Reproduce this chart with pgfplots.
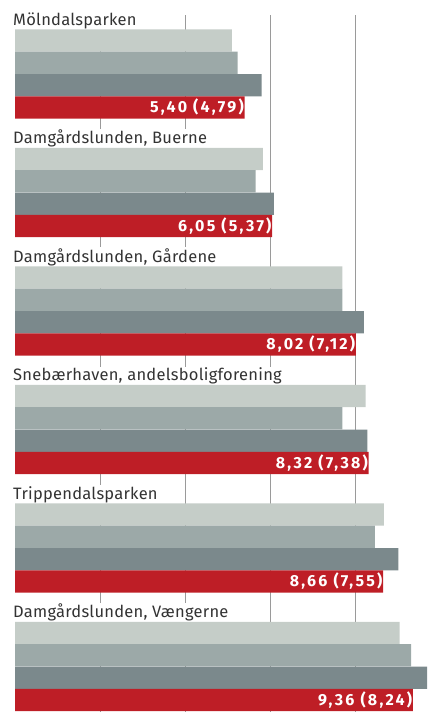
\documentclass[border=0pt]{standalone}
\usepackage{pgfplots}
\pgfplotsset{compat=1.18}
\usepackage{pgfplotstable}
\usepackage{fontspec}
\setmainfont{Fira Sans}
\newfontfamily\labfont[LetterSpace=1.5]{Fira Sans}
\newfontfamily\numfont[LetterSpace=14]{Fira Sans}
\definecolor{cLight}{HTML}{C5CDC8}
\definecolor{cMid}{HTML}{9CA9A8}
\definecolor{cDark}{HTML}{7B898C}
\definecolor{cRed}{HTML}{BE1E26}
\definecolor{cText}{HTML}{333333}
\definecolor{cGrid}{HTML}{9A9A9A}

% x = value, y = bar centre (pixels from top)
\pgfplotstableread{
x y
5.10 40.5
5.83 159.0
7.70 277.5
8.25 396.0
8.68 514.5
9.05 633.0
}\lightdata
\pgfplotstableread{
x y
5.24 62.8
5.66 181.3
7.70 299.8
7.70 418.3
8.47 536.8
9.32 655.3
}\middata
\pgfplotstableread{
x y
5.80 85.2
6.09 203.7
8.21 322.2
8.29 440.7
9.02 559.2
9.90 677.7
}\darkdata
\pgfplotstableread{
x y label
5.40 107.5 {5,40 (4,79)}
6.05 226.0 {6,05 (5,37)}
8.02 344.5 {8,02 (7,12)}
8.32 463.0 {8,32 (7,38)}
8.66 581.5 {8,66 (7,55)}
9.36 700.0 {9,36 (8,24)}
}\reddata

\tikzset{grplabel/.style={anchor=base west, fill=white, inner xsep=1pt, inner ysep=1pt, text=cText,
    font=\labfont\fontsize{16.5}{19}\selectfont}}

\begin{document}
\begin{tikzpicture}
\begin{axis}[
  width=427pt, height=712pt, scale only axis,
  xmin=-0.353, xmax=9.694, ymin=0, ymax=712,
  y dir=reverse,
  axis lines=none, ticks=none,
  clip=true,
]
\path[draw=none] (rel axis cs:0,0) rectangle (rel axis cs:1,1);
% gridlines
\addplot[cGrid, line width=1pt] coordinates {(2,15) (2,712)};
\addplot[cGrid, line width=1pt] coordinates {(4,15) (4,712)};
\addplot[cGrid, line width=1pt] coordinates {(6,15) (6,712)};
\addplot[cGrid, line width=1pt] coordinates {(8,15) (8,712)};
% group labels (white boxes hide the gridlines behind them)
\node[grplabel] at (axis cs:-0.07,25) {Mölndalsparken};
\node[grplabel] at (axis cs:-0.07,143.5) {Damgårdslunden, Buerne};
\node[grplabel] at (axis cs:-0.07,262) {Damgårdslunden, Gårdene};
\node[grplabel] at (axis cs:-0.07,380.5) {Snebærhaven, andelsboligforening};
\node[grplabel] at (axis cs:-0.07,499) {Trippendalsparken};
\node[grplabel] at (axis cs:-0.07,617.5) {Damgårdslunden, Vængerne};
% bars
\addplot[xbar, bar width=22.35, bar shift=0pt, fill=cLight, draw=none] table[x=x,y=y] {\lightdata};
\addplot[xbar, bar width=22.35, bar shift=0pt, fill=cMid, draw=none] table[x=x,y=y] {\middata};
\addplot[xbar, bar width=22.35, bar shift=0pt, fill=cDark, draw=none] table[x=x,y=y] {\darkdata};
\addplot[xbar, bar width=22.35, bar shift=0pt, fill=cRed, draw=none,
  nodes near coords, point meta=explicit symbolic,
  nodes near coords align={anchor=east},
  every node near coord/.append style={anchor=east, xshift=-0.5pt, text=white,
    font=\numfont\fontsize{16}{18}\selectfont\bfseries, inner sep=0pt}]
  table[x=x,y=y,meta=label] {\reddata};
\end{axis}
\end{tikzpicture}
\end{document}
